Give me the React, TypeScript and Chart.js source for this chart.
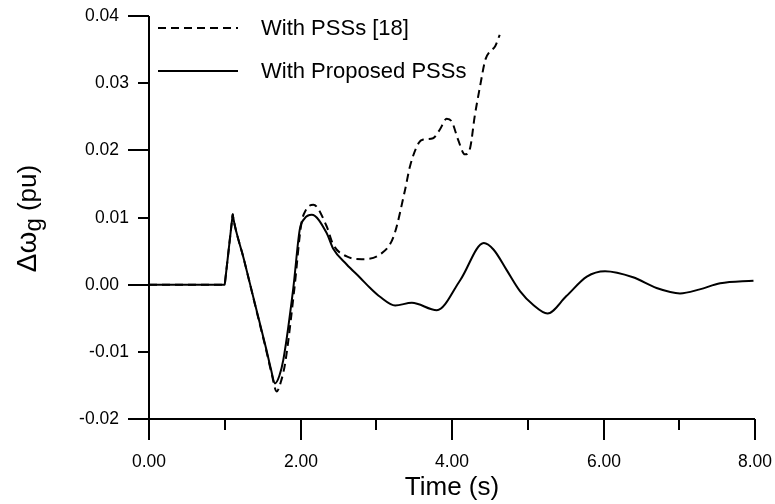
import React, { useEffect, useRef } from 'react';
import { Chart, registerables } from 'chart.js';

Chart.register(...registerables);

// Series: With Proposed PSSs (solid)
const timeProposed = [0, 1.0, 1.005, 1.1, 1.105, 1.11, 1.25, 1.4, 1.55, 1.61, 1.663, 1.72, 1.773, 1.905, 1.99, 2.05, 2.148, 2.345, 2.43, 2.61, 2.79, 2.92, 3.05, 3.25, 3.47, 3.8, 4.11, 4.42, 4.55, 4.72, 4.9, 5.07, 5.26, 5.51, 5.78, 6.02, 6.39, 6.7, 7.01, 7.27, 7.54, 7.98];
const valuesProposed = [0, 0, 0.0005, 0.0100, 0.0105, 0.0101, 0.0039, -0.0029, -0.0097, -0.0126, -0.0147, -0.0136, -0.0112, -0.0005, 0.0082, 0.0098, 0.0104, 0.0077, 0.0054, 0.003, 0.001, -0.0005, -0.0018, -0.0031, -0.0027, -0.0038, 0.0007, 0.0062, 0.0052, 0.0022, -0.001, -0.003, -0.0043, -0.0017, 0.0012, 0.002, 0.0011, -0.0005, -0.0013, -0.0007, 0.0002, 0.0006];

// Series: With PSSs [18] (dashed)
const timeRef18 = [0, 1.0, 1.005, 1.1, 1.105, 1.11, 1.25, 1.4, 1.55, 1.62, 1.685, 1.74, 1.8, 1.92, 2.01, 2.07, 2.17, 2.345, 2.43, 2.61, 2.81, 3.05, 3.23, 3.38, 3.445, 3.56, 3.62, 3.75, 3.84, 3.93, 3.996, 4.08, 4.17, 4.24, 4.3, 4.37, 4.44, 4.5, 4.57, 4.63];
const valuesRef18 = [0, 0, 0.0005, 0.0100, 0.0105, 0.0101, 0.0039, -0.003, -0.0099, -0.0133, -0.0159, -0.0145, -0.0115, -0.0005, 0.009, 0.0111, 0.0119, 0.0087, 0.006, 0.0042, 0.0038, 0.0045, 0.0072, 0.0141, 0.0176, 0.0211, 0.0216, 0.0218, 0.0231, 0.0247, 0.0243, 0.0216, 0.0194, 0.0204, 0.0251, 0.0295, 0.0335, 0.0347, 0.0355, 0.0372];

const seriesLabels = ['With PSSs [18]', 'With Proposed PSSs'];

// Axes
const xTicks = [0, 1, 2, 3, 4, 5, 6, 7, 8];
const xTickLabels = ['0.00', '', '2.00', '', '4.00', '', '6.00', '', '8.00'];
const xMajor = [true, false, true, false, true, false, true, false, true];
const yTicks = [0.04, 0.03, 0.02, 0.01, 0, -0.01, -0.02];
const yTickLabels = ['0.04', '0.03', '0.02', '0.01', '0.00', '-0.01', '-0.02'];
const yMajor = [true, false, true, false, true, false, true];
const xTitle = 'Time (s)';

const FONT = '"Liberation Sans", Arial, Helvetica, sans-serif';

const axesPlugin = {
  id: 'customAxes',
  afterDraw(chart: any) {
    const { ctx, chartArea } = chart;
    const xs = chart.scales.x;
    const ys = chart.scales.y;
    const { left, right, top, bottom } = chartArea;
    ctx.save();
    ctx.strokeStyle = '#000';
    ctx.fillStyle = '#000';
    ctx.lineWidth = 2;
    ctx.setLineDash([]);
    // axis lines
    ctx.beginPath();
    ctx.moveTo(left, top);
    ctx.lineTo(left, bottom);
    ctx.moveTo(left, bottom);
    ctx.lineTo(right, bottom);
    ctx.stroke();

    // y ticks
    ctx.font = `17.5px ${FONT}`;
    ctx.textAlign = 'right';
    ctx.textBaseline = 'middle';
    yTicks.forEach((v, i) => {
      const py = Math.round(ys.getPixelForValue(v));
      const len = yMajor[i] ? 21 : 11;
      ctx.beginPath();
      ctx.moveTo(left - len, py);
      ctx.lineTo(left, py);
      ctx.stroke();
      ctx.fillText(yTickLabels[i], left - len - 9, py);
    });

    // x ticks
    ctx.textAlign = 'center';
    xTicks.forEach((v, i) => {
      const px = Math.round(xs.getPixelForValue(v));
      const len = xMajor[i] ? 21 : 11;
      ctx.beginPath();
      ctx.moveTo(px, bottom);
      ctx.lineTo(px, bottom + len);
      ctx.stroke();
      if (xTickLabels[i]) ctx.fillText(xTickLabels[i], px, bottom + 43);
    });

    // x title
    ctx.font = `26px ${FONT}`;
    ctx.fillText(xTitle, (left + right) / 2, bottom + 69);

    // y title (rotated): Δω_g (pu)
    ctx.save();
    ctx.translate(26, (top + bottom) / 2 + 1);
    ctx.rotate(-Math.PI / 2);
    ctx.textAlign = 'left';
    ctx.textBaseline = 'alphabetic';
    const f1 = `28px ${FONT}`;
    const f2 = `24px ${FONT}`;
    const f3 = `26px ${FONT}`;
    ctx.font = f1;
    const w1 = ctx.measureText('Δω').width;
    ctx.font = f2;
    const w2 = ctx.measureText('g').width;
    ctx.font = f3;
    const w3 = ctx.measureText(' (pu)').width;
    let x0 = -(w1 + w2 + w3) / 2;
    const base = 10;
    ctx.font = f1;
    ctx.fillText('Δω', x0, base);
    x0 += w1;
    ctx.font = f2;
    ctx.fillText('g', x0, base + 5);
    x0 += w2;
    ctx.font = f3;
    ctx.fillText(' (pu)', x0, base);
    ctx.restore();

    // legend
    const legendY = [28, 71];
    chart.data.datasets.forEach((ds: any, i: number) => {
      ctx.lineWidth = 2;
      ctx.setLineDash(ds.borderDash || []);
      ctx.beginPath();
      ctx.moveTo(158, legendY[i]);
      ctx.lineTo(238, legendY[i]);
      ctx.stroke();
      ctx.setLineDash([]);
      ctx.font = `22px ${FONT}`;
      ctx.textAlign = 'left';
      ctx.textBaseline = 'middle';
      ctx.fillText(ds.label, 261, legendY[i] + 1);
    });
    ctx.restore();
  },
};

export default function App() {
  const ref = useRef<HTMLCanvasElement | null>(null);
  useEffect(() => {
    document.body.style.margin = '0';
    const canvas = ref.current;
    if (!canvas) return;
    const chart = new Chart(canvas, {
      type: 'line',
      data: {
        datasets: [
          {
            label: seriesLabels[0],
            data: timeRef18.map((t, i) => ({ x: t, y: valuesRef18[i] })),
            borderColor: '#000',
            borderWidth: 2,
            borderDash: [8, 5],
            pointRadius: 0,
            fill: false,
            cubicInterpolationMode: 'monotone',
          },
          {
            label: seriesLabels[1],
            data: timeProposed.map((t, i) => ({ x: t, y: valuesProposed[i] })),
            borderColor: '#000',
            borderWidth: 2,
            pointRadius: 0,
            fill: false,
            cubicInterpolationMode: 'monotone',
          },
        ],
      },
      options: {
        responsive: false,
        devicePixelRatio: 1,
        animation: false,
        layout: { padding: { left: 149, right: 20, top: 16, bottom: 85 } },
        scales: {
          x: { type: 'linear', min: 0, max: 8, display: false },
          y: { type: 'linear', min: -0.02, max: 0.04, display: false },
        },
        plugins: {
          legend: { display: false },
          tooltip: { enabled: false },
        },
      },
      plugins: [axesPlugin],
    } as any);
    return () => chart.destroy();
  }, []);
  return <canvas ref={ref} width={775} height={504} style={{ display: 'block' }} />;
}
